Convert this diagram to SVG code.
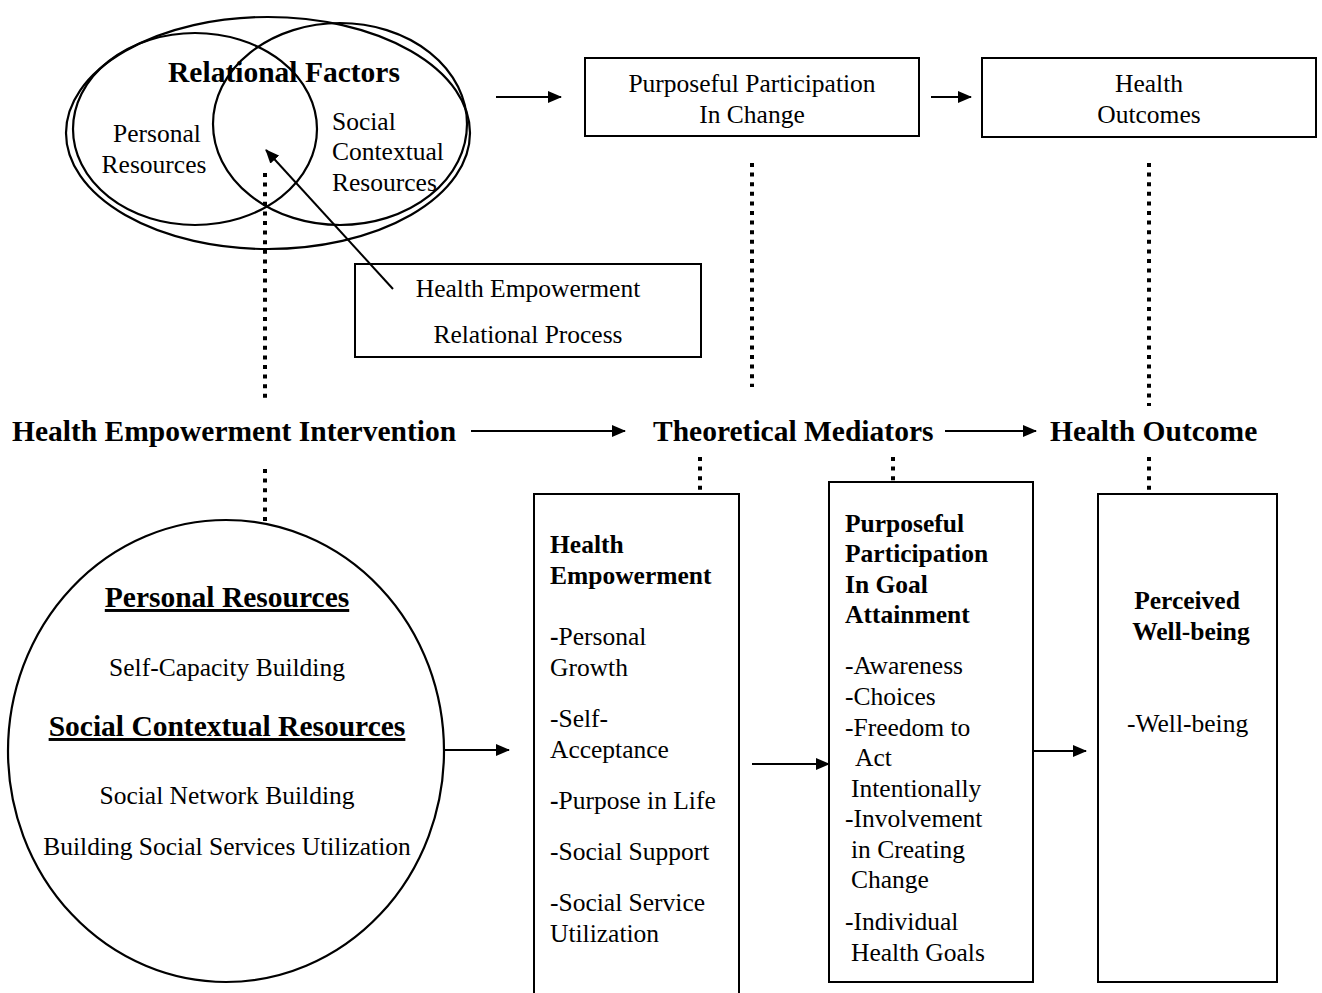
<svg xmlns="http://www.w3.org/2000/svg" width="1322" height="993" viewBox="0 0 1322 993">
<style>
text{font-family:"Liberation Serif","Times New Roman",serif;fill:#000}
.h{font-size:29.5px;font-weight:bold}
.r{font-size:25.5px}
.b{font-size:25.5px;font-weight:bold}
.c{text-anchor:middle}
.u{text-decoration:underline}
.box{fill:none;stroke:#000;stroke-width:2}
.sh{fill:none;stroke:#000;stroke-width:2.2}
.ar{fill:none;stroke:#000;stroke-width:2;marker-end:url(#ah)}
.dot{fill:none;stroke:#000;stroke-width:4;stroke-dasharray:4 5.6}
</style>
<defs>
<marker id="ah" markerUnits="userSpaceOnUse" markerWidth="14" markerHeight="12" refX="13" refY="6" orient="auto">
<path d="M0,0 L14,6 L0,12 Z" fill="#000"/>
</marker>
</defs>
<rect width="1322" height="993" fill="#fff"/>

<g id="relational-factors">
<ellipse class="sh" cx="268" cy="133" rx="202" ry="116"/>
<ellipse class="sh" cx="195" cy="129" rx="122" ry="96"/>
<ellipse class="sh" cx="340" cy="124" rx="127" ry="101"/>
<text class="h c" x="284" y="82">Relational Factors</text>
<text class="r c" x="157" y="142">Personal</text>
<text class="r c" x="154" y="173">Resources</text>
<text class="r" x="332" y="130">Social</text>
<text class="r" x="332" y="160">Contextual</text>
<text class="r" x="332" y="191">Resources</text>
</g>

<g id="relational-process">
<rect class="box" x="355" y="264" width="346" height="93"/>
<text class="r c" x="528" y="297">Health Empowerment</text>
<text class="r c" x="528" y="343">Relational Process</text>
</g>

<g id="purposeful-participation-change">
<rect class="box" x="585" y="58" width="334" height="78"/>
<text class="r c" x="752" y="92">Purposeful Participation</text>
<text class="r c" x="752" y="123">In Change</text>
</g>

<g id="health-outcomes">
<rect class="box" x="982" y="58" width="334" height="79"/>
<text class="r c" x="1149" y="92">Health</text>
<text class="r c" x="1149" y="123">Outcomes</text>
</g>

<g id="label-intervention"><text class="h" x="12" y="441">Health Empowerment Intervention</text></g>
<g id="label-mediators"><text class="h" x="653" y="441">Theoretical Mediators</text></g>
<g id="label-outcome"><text class="h" x="1050" y="441">Health Outcome</text></g>

<g id="resources-circle">
<ellipse class="sh" cx="226" cy="751" rx="218" ry="231"/>
<text class="h c u" x="227" y="607">Personal Resources</text>
<text class="r c" x="227" y="676">Self-Capacity Building</text>
<text class="h c u" x="227" y="736">Social Contextual Resources</text>
<text class="r c" x="227" y="804">Social Network Building</text>
<text class="r c" x="227" y="855">Building Social Services Utilization</text>
</g>

<g id="health-empowerment">
<path class="box" d="M534,995 V494 H739 V995"/>
<text class="b" x="550" y="553">Health</text>
<text class="b" x="550" y="584">Empowerment</text>
<text class="r" x="550" y="645"><tspan font-weight="bold">-</tspan>Personal</text>
<text class="r" x="550" y="676">Growth</text>
<text class="r" x="550" y="727">-Self-</text>
<text class="r" x="550" y="758">Acceptance</text>
<text class="r" x="550" y="809"><tspan font-weight="bold">-</tspan>Purpose in Life</text>
<text class="r" x="550" y="860">-Social Support</text>
<text class="r" x="550" y="911">-Social Service</text>
<text class="r" x="550" y="942">Utilization</text>
</g>

<g id="purposeful-participation-goal">
<rect class="box" x="829" y="482" width="204" height="500"/>
<text class="b" x="845" y="532">Purposeful</text>
<text class="b" x="845" y="562">Participation</text>
<text class="b" x="845" y="593">In Goal</text>
<text class="b" x="845" y="623">Attainment</text>
<text class="r" x="845" y="674">-Awareness</text>
<text class="r" x="845" y="705">-Choices</text>
<text class="r" x="845" y="736">-Freedom to</text>
<text class="r" x="855" y="766">Act</text>
<text class="r" x="851" y="797">Intentionally</text>
<text class="r" x="845" y="827">-Involvement</text>
<text class="r" x="851" y="858">in Creating</text>
<text class="r" x="851" y="888">Change</text>
<text class="r" x="845" y="930">-Individual</text>
<text class="r" x="851" y="961">Health Goals</text>
</g>

<g id="perceived-wellbeing">
<rect class="box" x="1098" y="494" width="179" height="488"/>
<text class="b c" x="1187" y="609">Perceived</text>
<text class="b c" x="1191" y="640">Well-being</text>
<text class="r" x="1127" y="732">-Well-being</text>
</g>

<g id="connectors">
<line class="ar" x1="393" y1="289" x2="266" y2="150"/>
<line class="ar" x1="496" y1="97" x2="561" y2="97"/>
<line class="ar" x1="931" y1="97" x2="971" y2="97"/>
<line class="ar" x1="471" y1="431" x2="625" y2="431"/>
<line class="ar" x1="945" y1="431" x2="1036" y2="431"/>
<line class="ar" x1="445" y1="750" x2="509" y2="750"/>
<line class="ar" x1="752" y1="764" x2="829" y2="764"/>
<line class="ar" x1="1034" y1="751" x2="1086" y2="751"/>
<line class="dot" x1="265" y1="173" x2="265" y2="400"/>
<line class="dot" x1="752" y1="163" x2="752" y2="387"/>
<line class="dot" x1="1149" y1="163" x2="1149" y2="406"/>
<line class="dot" x1="265" y1="469" x2="265" y2="521"/>
<line class="dot" x1="700" y1="457" x2="700" y2="491"/>
<line class="dot" x1="893" y1="457" x2="893" y2="481"/>
<line class="dot" x1="1149" y1="457" x2="1149" y2="491"/>
</g>
</svg>
